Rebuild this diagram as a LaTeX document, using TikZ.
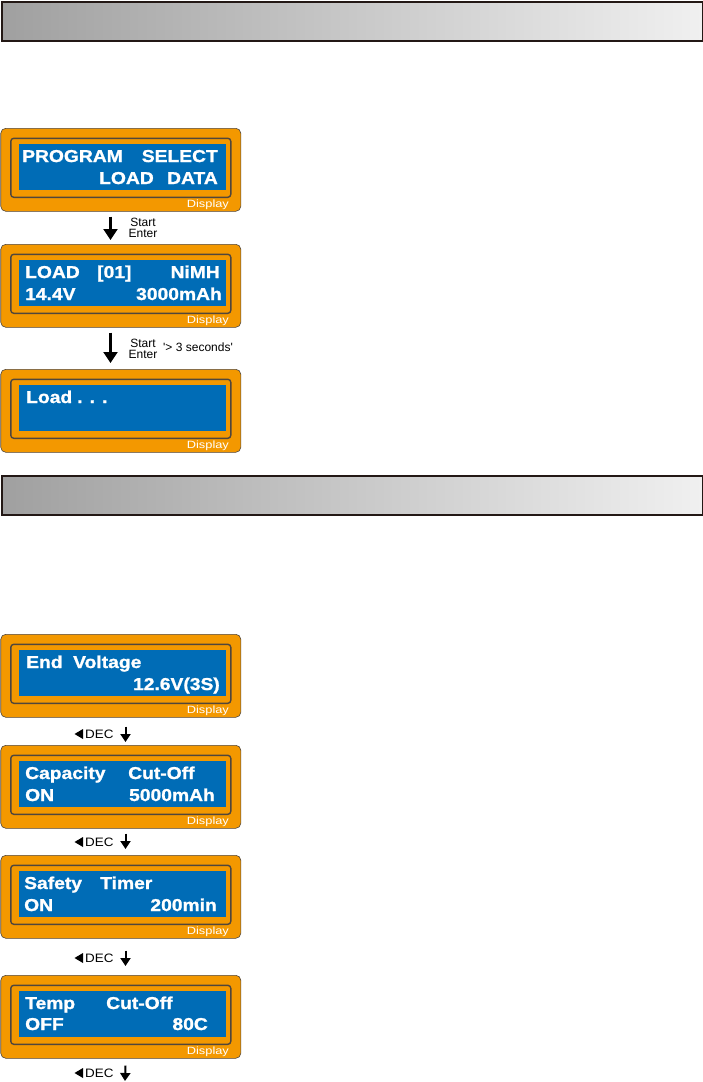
\documentclass[tikz,border=0pt]{standalone}
\usepackage{fontspec}
\setmainfont{Liberation Sans}
\newfontfamily\lcdfont[FakeStretch=1.12,BoldFeatures={FakeBold=1.2}]{Liberation Sans}
\newfontfamily\decfont[FakeStretch=1.1]{Liberation Sans}
\newfontfamily\tagfont[FakeStretch=1.22]{Liberation Sans}
\usetikzlibrary{arrows.meta,positioning}
\definecolor{lcdorange}{RGB}{243,152,0}
\definecolor{lcdblue}{RGB}{0,108,182}
\definecolor{lcdedge}{RGB}{80,70,60}
\definecolor{barline}{RGB}{35,24,21}
\definecolor{barleft}{RGB}{160,160,160}
\definecolor{barright}{RGB}{240,240,240}

\begin{document}
\begin{tikzpicture}[
  x=1pt,y=-1pt,
  bar/.style={draw=barline,line width=2pt,left color=barleft,right color=barright,
              anchor=north west,minimum width=701pt,minimum height=39pt,inner sep=0pt},
  lcd/.style={draw=lcdedge,fill=lcdorange,line width=0.6pt,rounded corners=5pt,
              anchor=north west,minimum width=240pt,minimum height=83pt,inner sep=0pt,
              path picture={
                \draw[line width=1.4pt,rounded corners=3pt]
                  ([xshift=10pt,yshift=-10pt]path picture bounding box.north west) rectangle
                  ([xshift=-10pt,yshift=14pt]path picture bounding box.south east);
                \fill[lcdblue,sharp corners]
                  ([xshift=18pt,yshift=-16pt]path picture bounding box.north west) rectangle
                  ([xshift=-15pt,yshift=21pt]path picture bounding box.south east);
              }},
  tag/.style={font=\tagfont\fontsize{10.5}{10}\selectfont,text=white,inner sep=0pt,anchor=base east},
  txt/.style={font=\lcdfont\bfseries\fontsize{17.2}{18}\selectfont,text=white,inner sep=0pt},
  lt/.style={txt,anchor=base west},
  rt/.style={txt,anchor=base east},
  key/.style={font=\fontsize{12}{10.5}\selectfont,align=center,inner sep=0pt},
  dec/.style={font=\decfont\fontsize{12.2}{12}\selectfont,inner sep=0pt,anchor=west},
  bigarr/.style={-{Triangle[length=11pt,width=14pt]},line width=2.2pt},
  decarr/.style={-{Triangle[length=8pt,width=10pt]},line width=2pt}
]
\useasboundingbox (0,0) rectangle (703,1082);

% section bars
\node[bar] (bar1) at (1,1) {};
\node[bar] (bar2) at (1,475) {};

% load data
\node[lcd] (d1) at (0.5,128) {};
\node[lt] (p1) at (22,162) {PROGRAM};
\node[rt] (p2) at (218,162) {SELECT};
\node[lt] (p3) at (99,184) {LOAD};
\node[rt] (p4) at (218,184) {DATA};

\node[lcd] (d2) at (0.5,244) {};
\node[lt] (q1) at (25,278) {LOAD};
\node[lt] (q2) at (97,278) {[01]};
\node[rt] (q3) at (220,278) {NiMH};
\node[lt] (q4) at (25,300) {14.4V};
\node[rt] (q5) at (222,300) {3000mAh};

\node[lcd] (d3) at (0.5,369) {};
\node[lt] (r1) at (26,403) {Load};
\node[lt] (r2) at (77,403) {. . .};

\draw[bigarr] ([xshift=110pt,yshift=-5pt]d1.south west) -- ([xshift=110pt,yshift=4pt]d2.north west);
\node[key] (k1) at (143,228) {Start\\Enter};
\draw[bigarr] ([xshift=110pt,yshift=-5pt]d2.south west) -- ([xshift=110pt,yshift=6pt]d3.north west);
\node[key] (k2) at (143,349) {Start\\Enter};
\node[key,anchor=west] (k3) at (163,347) {\textquotesingle> 3 seconds\textquotesingle};

% settings
\node[lcd] (d4) at (0.5,634) {};
\node[lt] (s1) at (26,668) {End};
\node[lt] (s2) at (73,668) {Voltage};
\node[rt] (s3) at (220,690) {12.6V(3S)};

\node[lcd] (d5) at (0.5,745) {};
\node[lt] (u1) at (25,779) {Capacity};
\node[lt] (u2) at (128,779) {Cut-Off};
\node[lt] (u3) at (25,801) {ON};
\node[rt] (u4) at (215,801) {5000mAh};

\node[lcd] (d6) at (0.5,855) {};
\node[lt] (v1) at (24,889) {Safety};
\node[lt] (v2) at (100,889) {Timer};
\node[lt] (v3) at (24,911) {ON};
\node[rt] (v4) at (217,911) {200min};

\node[lcd] (d7) at (0.5,975) {};
\node[lt] (w1) at (25,1009) {Temp};
\node[lt] (w2) at (106,1009) {Cut-Off};
\node[lt] (w3) at (25,1030) {OFF};
\node[rt] (w4) at (208,1030) {80C};

% display tags
\foreach \d in {d1,d2,d3,d4,d5,d6,d7}
  \node[tag] (\d t) at ([xshift=-12pt,yshift=4pt]\d.south east) {Display};

% DEC steps
\node[dec] (e1) at (85,734) {DEC};
\node[dec] (e2) at (85,842) {DEC};
\node[dec] (e3) at (85,958) {DEC};
\node[dec] (e4) at (85,1073) {DEC};
\foreach \e in {e1,e2,e3,e4}
  \fill ([xshift=-2pt]\e.west) ++(-8.5pt,0) -- ++(8.5pt,5pt) -- ++(0,-10pt) -- cycle;
\coordinate (dn) at (125,1081);
\draw[decarr] ([xshift=125pt,yshift=-9pt]d4.south west) -- ([xshift=125pt,yshift=3pt]d5.north west);
\draw[decarr] ([xshift=125pt,yshift=-5pt]d5.south west) -- ([xshift=125pt,yshift=6pt]d6.north west);
\draw[decarr] ([xshift=125pt,yshift=-12pt]d6.south west) -- ([xshift=125pt,yshift=9pt]d7.north west);
\draw[decarr] ([xshift=125pt,yshift=-7pt]d7.south west) -- (dn);
\end{tikzpicture}
\end{document}
